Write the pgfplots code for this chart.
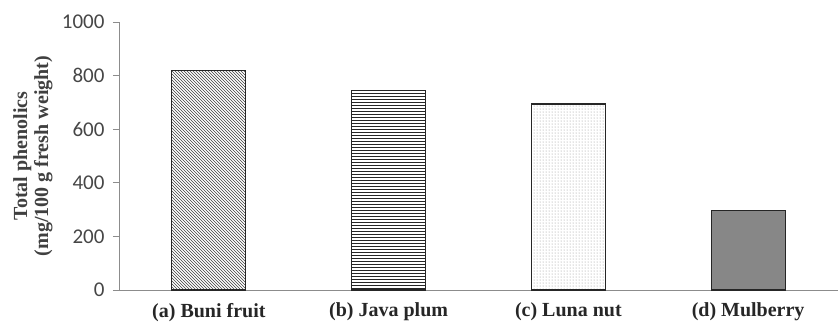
\documentclass[border=0pt]{standalone}
\usepackage{fontspec}
\setmainfont{Liberation Serif}
\newfontfamily\carlito{Carlito}
\usepackage{pgfplots}
\pgfplotsset{compat=1.18}
\usetikzlibrary{patterns}
\definecolor{axgray}{RGB}{140,140,140}
\definecolor{txtgray}{RGB}{70,70,70}
\begin{document}
\begin{tikzpicture}
\begin{axis}[
  name=main,
  scale only axis,
  width=719pt, height=268pt,
  xmin=-0.5, xmax=3.5, ymin=0, ymax=1000,
  axis lines*=left,
  axis line style={axgray, line width=0.8pt},
  ybar, bar width=74pt, bar shift=0pt,
  ytick={0,200,400,600,800,1000},
  xtick={0,1,2,3},
  xticklabels={(a) Buni fruit,(b) Java plum,(c) Luna nut,(d) Mulberry},
  x tick label style={font=\fontsize{20}{22}\selectfont\bfseries, text=black!85, yshift=-3.5pt},
  y tick label style={font=\fontsize{21}{23}\selectfont\carlito, text=txtgray, xshift=-5pt},
  /pgf/number format/assume math mode=true,
  yticklabel style={/pgf/number format/1000 sep={}},
  tick style={axgray, line width=0.8pt},
  major tick length=6pt,
  x tick style={draw=none},
  ytick pos=left,
  tick align=outside,
  ylabel={Total phenolics\\(mg/100 g fresh weight)},
  ylabel style={at={(axis description cs:0,0.5)}, anchor=center, yshift=86pt, align=center, font=\fontsize{20}{21}\selectfont\bfseries, text=black!75},
  clip=false,
]
\addplot[draw=black!85, line width=1.1pt, pattern=north west lines, pattern color=black!75] coordinates {(0,818)};
\addplot[draw=black!85, line width=1.1pt, pattern=horizontal lines, pattern color=black!85] coordinates {(1,746)};
\addplot[draw=black!85, line width=1.1pt, pattern=dots, pattern color=black!45] coordinates {(2,694)};
\addplot[draw=black!85, line width=1.1pt, fill={rgb,255:red,135;green,135;blue,135}] coordinates {(3,298)};
\end{axis}
\pgfresetboundingbox
\path ([shift={(-119pt,-32pt)}]main.south west) rectangle ([shift={(0pt,22pt)}]main.north east);
\end{tikzpicture}
\end{document}
